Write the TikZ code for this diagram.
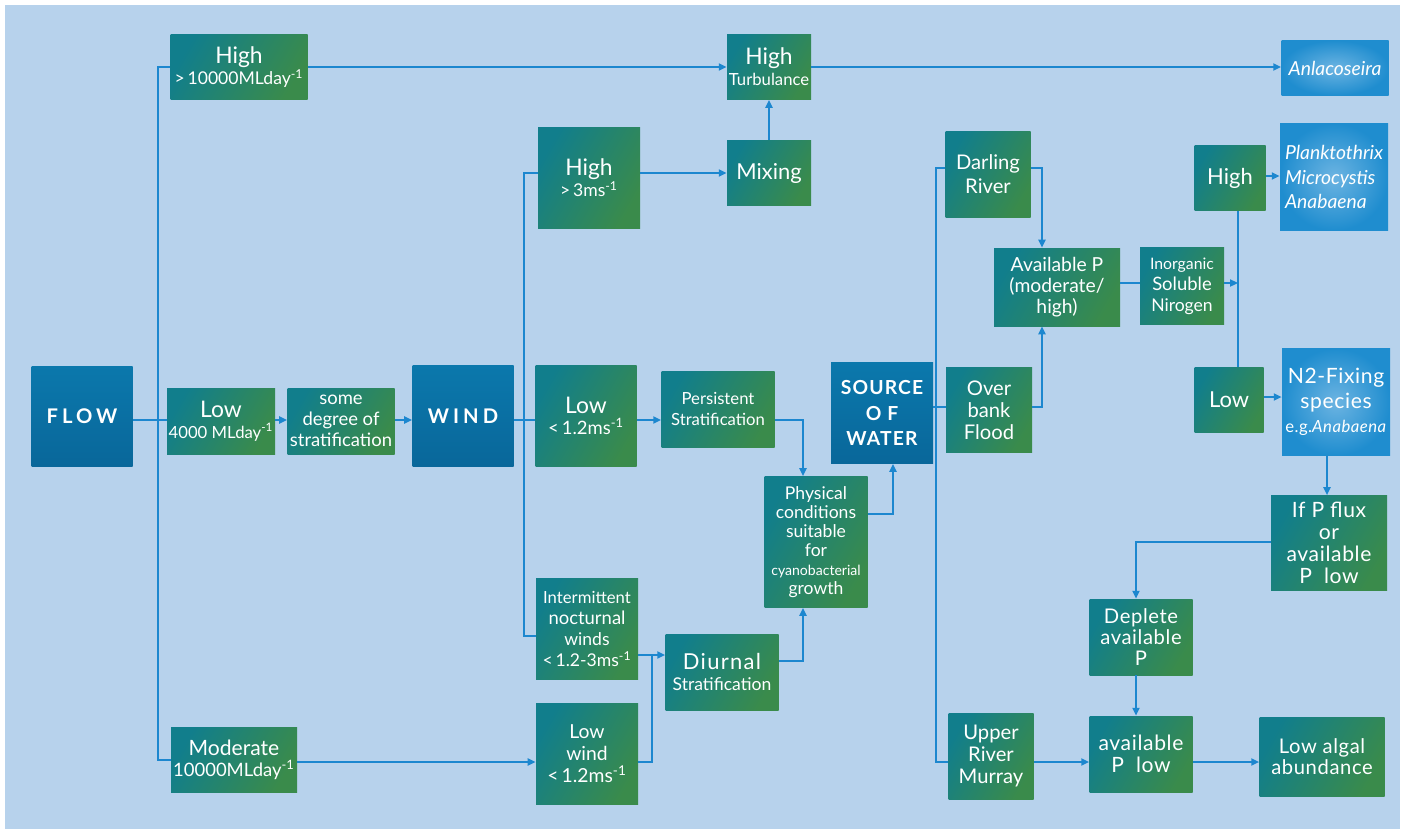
\documentclass[tikz,border=0pt]{standalone}
\usepackage{fontspec}
\setmainfont{Lato}
\usetikzlibrary{arrows.meta}

\definecolor{fon}{HTML}{B7D2EC}
\definecolor{liniya}{HTML}{1C87CF}
\definecolor{zel1}{HTML}{117E8C}
\definecolor{zel2}{HTML}{1F8870}
\definecolor{zel3}{HTML}{3A8B4B}
\definecolor{tyom1}{HTML}{0B78AC}
\definecolor{tyom2}{HTML}{09679A}
\definecolor{gol1}{HTML}{6CB4E2}
\definecolor{gol2}{HTML}{1F8DCF}

\newcommand{\fsz}[2]{\fontsize{#1}{#2}\selectfont}
\newcommand{\minus}[1]{\textsuperscript{-#1}}

\tikzset{
  blok/.style={rectangle, inner sep=0pt, align=center, text=white},
  razm/.style 2 args={minimum width=#1*0.02cm, minimum height=#2*0.02cm},
  zel/.style={blok, left color=zel1, middle color=zel2, right color=zel3, shading angle=60},
  tyom/.style={blok, top color=tyom1, bottom color=tyom2},
  gol/.style={blok, inner color=gol1, outer color=gol2},
  lin/.style={draw=liniya, line width=1pt},
  strel/.style={lin, -{Triangle[length=4.5pt,width=4pt]}}
}

\begin{document}
\begin{tikzpicture}[x=0.02cm, y=-0.02cm]
    % Фон
    \fill[white] (0,0) rectangle (1406,835);
    \fill[fon] (5,5) rectangle (1400,829);

    % Вертикальные стволы
    \def\xf{158}   \def\xw{524}   % расход, ветер
    \def\xs{936}   \def\xn{1238}  % источник, азот
    \def\xp{803}   \def\xa{1042}  % физ. условия, фосфор
    \def\xd{1136}  \def\yd{655}   % истощение, суточная стратификация
    \def\yo{407}   \def\yu{762}   % разлив, нижний ряд

    % Расход
    \node[tyom, razm={101}{100}, font=\fsz{11.5}{14}\bfseries\addfontfeature{LetterSpace=20}] (flow) at (82,416) {FLOW};
    \node[zel, razm={137}{65}] (hiflow) at (239,67) {\fsz{13}{17}High\\ \fsz{10}{12}>\,10000MLday\minus{1}};
    \node[zel, razm={108}{66}] (loflow) at (221,421) {\fsz{13}{17}Low\\ \fsz{9.5}{12}4000 MLday\minus{1}};
    \node[zel, razm={126}{65}] (modflow) at (234,760) {\fsz{12}{16}Moderate\\ \fsz{10.5}{12}10000MLday\minus{1}};
    \node[zel, razm={107}{66}, font=\fsz{10.5}{12}] (somedeg) at (341,421) {some\\degree of\\stratification};

    % Ветер
    \node[tyom, razm={101}{101}, font=\fsz{11.5}{14}\bfseries\addfontfeature{LetterSpace=20}] (wind) at (463,416) {WIND};
    \node[zel, razm={102}{101}] (hiwind) at (589,178) {\fsz{13}{17}High\\ \fsz{10}{12}>\,3ms\minus{1}};
    \node[zel, razm={101}{101}] (lowind) at (586,416) {\fsz{13}{17}Low\\ \fsz{10.5}{12}<\,1.2ms\minus{1}};
    \node[zel, razm={102}{101}] (interm) at (587,629) {\fsz{9.5}{11.5}Intermittent\\ \fsz{10.5}{12}nocturnal\\winds\\<\,1.2-3ms\minus{1}};
    \node[zel, razm={102}{101}, font=\fsz{11}{12.5}] (lwind) at (587,754) {Low\\wind\\<\,1.2ms\minus{1}};

    % Перемешивание и стратификация
    \node[zel, razm={84}{65}] (turb) at (769,67) {\fsz{13}{15}High\\ \fsz{9.5}{11}Turbulance};
    \node[zel, razm={84}{65}, font=\fsz{12.5}{14}] (mixing) at (769,173) {Mixing};
    \node[zel, razm={113}{76}, font=\fsz{9.5}{12}] (persist) at (718,409) {Persistent\\Stratification};
    \node[zel, razm={113}{76}] (diurnal) at (722,672) {\fsz{12.5}{15}\addfontfeature{LetterSpace=6}Diurnal\\ \fsz{10}{12}Stratification};
    \node[zel, razm={103}{131}, font=\fsz{10}{10.8}] (phys) at (816,542) {Physical\\conditions\\suitable\\for\\ \fsz{8}{10.8}cyanobacterial\\ \fsz{10}{10.8}growth};

    % Источник воды
    \node[tyom, razm={102}{101}, font=\fsz{11}{14.5}\bfseries\addfontfeature{LetterSpace=6}] (source) at (882,413) {SOURCE\\O F\\WATER};
    \node[zel, razm={85}{86}, font=\fsz{11.5}{14}] (darling) at (988,174) {Darling\\River};
    \node[zel, razm={86}{85}, font=\fsz{11.5}{12.5}] (overbank) at (989,410) {Over\\bank\\Flood};
    \node[zel, razm={85}{86}, font=\fsz{11.5}{12.5}] (upper) at (991,756) {Upper\\River\\Murray};
    \node[zel, razm={126}{78}, font=\fsz{11}{12}] (availP) at (1057,287) {Available P\\(moderate/\\high)};
    \node[zel, razm={84}{77}] (inorg) at (1182,286) {\fsz{9}{11}Inorganic\\ \fsz{10.5}{11}Soluble\\Nirogen};

    % Азот и виды
    \node[zel, razm={71}{65}, font=\fsz{12.5}{14}] (hiN) at (1230,178) {High};
    \node[zel, razm={69}{65}, font=\fsz{12.5}{14}] (loN) at (1229,400) {Low};
    \node[gol, razm={107}{55}, font=\fsz{11}{13}\itshape] (anla) at (1335,68) {Anlacoseira};
    \node[gol, razm={108}{107}, align=left, font=\fsz{11}{14}\itshape] (plank) at (1334,177) {Planktothrix\\Microcystis\\Anabaena};
    \node[gol, razm={108}{107}, font=\fsz{12}{14}\addfontfeature{LetterSpace=3}] (n2fix) at (1336,402) {N2-Fixing\\species\\ \fsz{9.5}{12}e.g.\textit{Anabaena}};
    \node[zel, razm={116}{95}, font=\fsz{12}{12.5}\addfontfeature{LetterSpace=3}] (ifp) at (1329,543) {If P flux\\or\\available\\P~ low};
    \node[zel, razm={103}{76}, font=\fsz{11.5}{12}\addfontfeature{LetterSpace=3}] (deplete) at (1141,637) {Deplete\\available\\P};
    \node[zel, razm={103}{76}, font=\fsz{12}{12.5}\addfontfeature{LetterSpace=3}] (aplow) at (1141,754) {available\\P~ low};
    \node[zel, razm={125}{79}, font=\fsz{11.5}{12}\addfontfeature{LetterSpace=3}] (lowalg) at (1322,757) {Low algal\\abundance};

    % Связи: расход
    \draw[lin] (hiflow.west) -| (\xf,420) |- (modflow.west);
    \draw[lin] (flow.east |- 0,420) -- (loflow.west |- 0,420);
    \draw[strel] (loflow.east |- 0,420) -- (somedeg.west |- 0,420);
    \draw[strel] (somedeg.east |- 0,420) -- (wind.west |- 0,420);
    \draw[strel] (hiflow) -- (turb);
    \draw[strel] (turb.east) -- (turb.east -| anla.west);

    % Связи: ветер
    \draw[lin] (wind.east |- 0,420) -- (lowind.west |- 0,420);
    \draw[lin] (hiwind.west |- mixing) -| (\xw,636) -- (interm.west |- 0,636);
    \draw[strel] (hiwind.east |- mixing) -- (mixing);
    \draw[strel] (mixing) -- (turb);
    \draw[strel] (lowind.east |- 0,420) -- (persist.west |- 0,420);
    \draw[strel] (persist.east |- 0,420) -| (\xp,0 |- phys.north);
    \draw[strel] (interm.east |- 0,\yd) -- (diurnal.west |- 0,\yd);
    \draw[strel] (modflow.east |- 0,\yu) -- (lwind.west |- 0,\yu);
    \draw[lin] (lwind.east |- 0,\yu) -| (652,\yd);
    \draw[strel] (diurnal.east |- 0,661) -| (\xp,0 |- phys.south);
    \draw[strel] (phys.east |- 0,514) -| (893,0 |- source.south);

    % Связи: источник воды
    \draw[lin] (source.east |- 0,\yo) -- (overbank.west |- 0,\yo);
    \draw[lin] (darling.west |- 0,168) -| (\xs,\yu) -- (upper.west |- 0,\yu);
    \draw[strel] (darling.east |- 0,168) -| (\xa,0 |- availP.north);
    \draw[strel] (overbank.east |- 0,\yo) -| (\xa,0 |- availP.south);
    \draw[lin] (availP.east |- 0,283) -- (inorg.west |- 0,283);
    \draw[strel] (inorg.east |- 0,283) -- (\xn,283);
    \draw[lin] (\xn,0 |- hiN.south) -- (\xn,0 |- loN.north);
    \draw[strel] (hiN.east |- 0,176) -- (plank.west |- 0,176);
    \draw[strel] (loN.east |- 0,397) -- (n2fix.west |- 0,397);
    \draw[strel] (1327,0 |- n2fix.south) -- (1327,0 |- ifp.north);
    \draw[strel] (ifp.west |- 0,542) -| (\xd,0 |- deplete.north);
    \draw[strel] (\xd,0 |- deplete.south) -- (\xd,0 |- aplow.north);
    \draw[strel] (upper.east |- 0,\yu) -- (aplow.west |- 0,\yu);
    \draw[strel] (aplow.east |- 0,\yu) -- (lowalg.west |- 0,\yu);
\end{tikzpicture}
\end{document}
